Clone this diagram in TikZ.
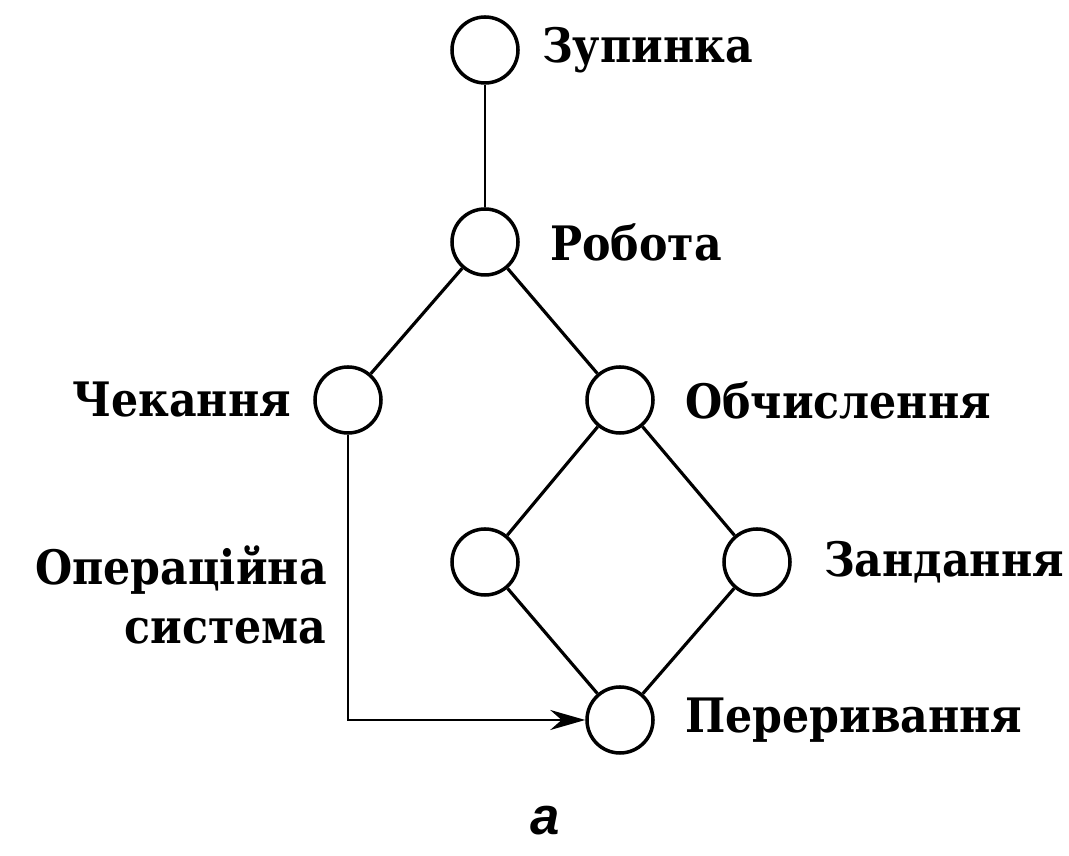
\documentclass[tikz,border=0pt]{standalone}
\usepackage{fontspec}
\setmainfont{DejaVu Serif Condensed}
\newfontfamily\capfont{Liberation Sans}
\usetikzlibrary{arrows.meta,positioning}

\begin{document}
\begin{tikzpicture}[
  state/.style={circle, draw, line width=2pt, minimum size=1.32cm,
    inner sep=0pt},
  lbl/.style={font=\bfseries\fontsize{27}{34}\selectfont, inner sep=0pt},
  link/.style={line width=1.8pt},
  arr/.style={-{Stealth[length=0.7cm, width=0.4cm]}, line width=1.5pt},
]
  \useasboundingbox (0,0) rectangle (21.38,17.12);

  \node[state] (stop) at (9.70,16.12) {};
  \node[state] (run) at (9.70,12.28) {};
  \node[state] (wait) at (6.96,9.12) {};
  \node[state] (calc) at (12.40,9.12) {};
  \node[state] (os) at (9.70,5.88) {};
  \node[state] (task) at (15.14,5.88) {};
  \node[state] (intr) at (12.40,2.72) {};

  \node[lbl, right=0.44cm of stop] (stoplbl) {Зупинка};
  \node[lbl, right=0.6cm of run] (runlbl) {Робота};
  \node[lbl, left=0.44cm of wait] (waitlbl) {Чекання};
  \node[lbl, right=0.6cm of calc] (calclbl) {Обчислення};
  \node[lbl, right=0.64cm of task] (tasklbl) {Зандання};
  \node[lbl, right=0.6cm of intr] (intrlbl) {Переривання};
  \node[lbl, align=right, anchor=east] (oslbl) at (6.54,5.22)
    {Операційна\\система};

  \coordinate (bend) at (wait.south |- intr.west);

  \draw[line width=1.4pt] (stop) -- (run);
  \draw[link] (run) -- (wait);
  \draw[link] (run) -- (calc);
  \draw[link] (calc) -- (os);
  \draw[link] (calc) -- (task);
  \draw[link] (os) -- (intr);
  \draw[link] (task) -- (intr);
  \draw[arr] (wait) -- (bend) -- (intr);

  \node[font=\capfont\bfseries\itshape\fontsize{30}{36}\selectfont]
    (cap) at (10.90,0.70) {a};
\end{tikzpicture}
\end{document}
